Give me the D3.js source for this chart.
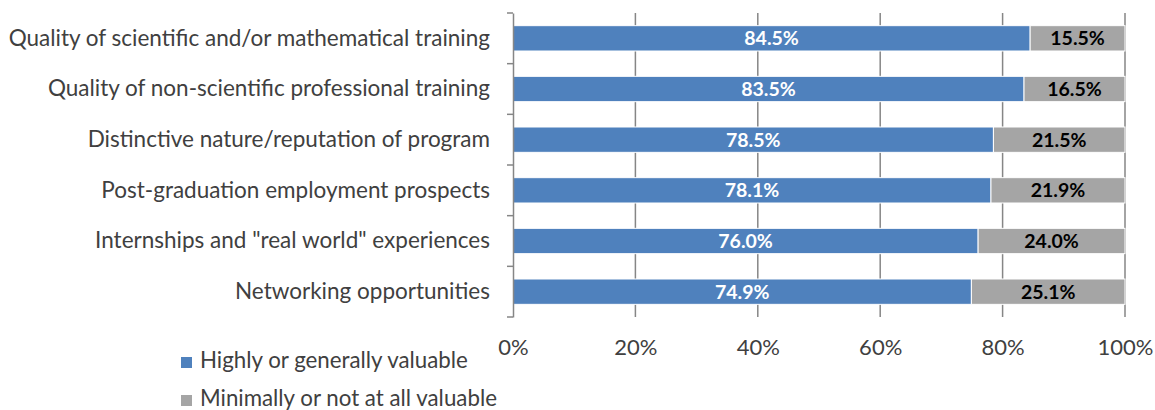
<!DOCTYPE html>
<html>
<head>
<meta charset="utf-8">
<title>Program value</title>
<script src="https://cdn.jsdelivr.net/npm/d3@7"></script>
<style>
  body { margin: 0; background: #fff; }
  svg { display: block; }
</style>
</head>
<body>
<div id="chart"></div>
<script>
const categories = [
  "Quality of scientific and/or mathematical training",
  "Quality of non-scientific professional training",
  "Distinctive nature/reputation of program",
  "Post-graduation employment prospects",
  "Internships and \"real world\" experiences",
  "Networking opportunities"
];
const valuable = [84.5, 83.5, 78.5, 78.1, 76.0, 74.9];
const notValuable = [15.5, 16.5, 21.5, 21.9, 24.0, 25.1];
const seriesNames = ["Highly or generally valuable", "Minimally or not at all valuable"];
const xTicks = [0, 20, 40, 60, 80, 100];

const width = 1155, height = 410;
const margin = {top: 13, right: 30, bottom: 93, left: 513};
const colors = ["#4f81bd", "#a5a5a5"];
const font = "Lato, 'Open Sans', sans-serif";
const labelSize = 22.5;

const svg = d3.select("#chart").append("svg")
  .attr("width", width)
  .attr("height", height)
  .style("font-family", font);

const x = d3.scaleLinear()
  .domain([0, 100])
  .range([margin.left, width - margin.right]);

const y = d3.scaleBand()
  .domain(categories)
  .range([margin.top, height - margin.bottom])
  .paddingInner(0.5)
  .paddingOuter(0.25);

// gridlines
svg.append("g")
  .selectAll("line")
  .data(xTicks.slice(1))
  .join("line")
    .attr("x1", d => x(d))
    .attr("x2", d => x(d))
    .attr("y1", margin.top)
    .attr("y2", height - margin.bottom)
    .attr("stroke", "#868686")
    .attr("stroke-width", 1.5);

// stacked bars
const rows = categories.map((c, i) => ({cat: c, a: valuable[i], b: notValuable[i]}));

const segs = rows.flatMap(d => [
  {cat: d.cat, x0: 0, x1: d.a, v: d.a, s: 0},
  {cat: d.cat, x0: d.a, x1: d.a + d.b, v: d.b, s: 1}
]);

svg.append("g")
  .selectAll("rect")
  .data(segs)
  .join("rect")
    .attr("x", d => x(d.x0))
    .attr("y", d => y(d.cat))
    .attr("width", d => x(d.x1) - x(d.x0))
    .attr("height", y.bandwidth())
    .attr("fill", d => colors[d.s])
    .attr("stroke", "#fff")
    .attr("stroke-width", 1);

svg.append("g")
  .selectAll("text")
  .data(segs)
  .join("text")
    .attr("x", d => (x(d.x0) + x(d.x1)) / 2)
    .attr("y", d => y(d.cat) + y.bandwidth() / 2)
    .attr("dy", "0.36em")
    .attr("text-anchor", "middle")
    .attr("font-size", 19.5)
    .attr("font-weight", "bold")
    .attr("fill", d => d.s === 0 ? "#fff" : "#000")
    .text(d => d.v.toFixed(1) + "%");

// category axis
const yAxis = g => g
  .attr("transform", `translate(${margin.left},0)`)
  .call(d3.axisLeft(y).tickSize(0).tickPadding(23).tickSizeOuter(0))
  .call(g => g.select(".domain").attr("stroke", "#868686").attr("stroke-width", 1.5))
  .call(g => g.selectAll(".tick text").attr("fill", "#404040").attr("font-size", labelSize).attr("font-family", font));

svg.append("g").call(yAxis);

// category boundary ticks
const step = y.step();
svg.append("g")
  .selectAll("line")
  .data(d3.range(categories.length + 1))
  .join("line")
    .attr("x1", margin.left - 6)
    .attr("x2", margin.left)
    .attr("y1", i => margin.top + i * step)
    .attr("y2", i => margin.top + i * step)
    .attr("stroke", "#868686")
    .attr("stroke-width", 1.5);

// value axis labels
const xAxis = g => g
  .attr("transform", `translate(0,${height - margin.bottom})`)
  .call(d3.axisBottom(x).tickValues(xTicks).tickFormat(d => d + "%").tickSize(0).tickPadding(22))
  .call(g => g.select(".domain").remove())
  .call(g => g.selectAll(".tick text").attr("fill", "#404040").attr("font-size", 22).attr("font-family", font));

svg.append("g").call(xAxis);

// legend
const legend = svg.append("g")
  .selectAll("g")
  .data(seriesNames)
  .join("g")
    .attr("transform", (d, i) => `translate(181,${357 + i * 38})`);

legend.append("rect")
  .attr("width", 11)
  .attr("height", 11)
  .attr("fill", (d, i) => colors[i]);

legend.append("text")
  .attr("x", 19)
  .attr("y", 11)
  .attr("font-size", 22.3)
  .attr("fill", "#404040")
  .text(d => d);
</script>
</body>
</html>
